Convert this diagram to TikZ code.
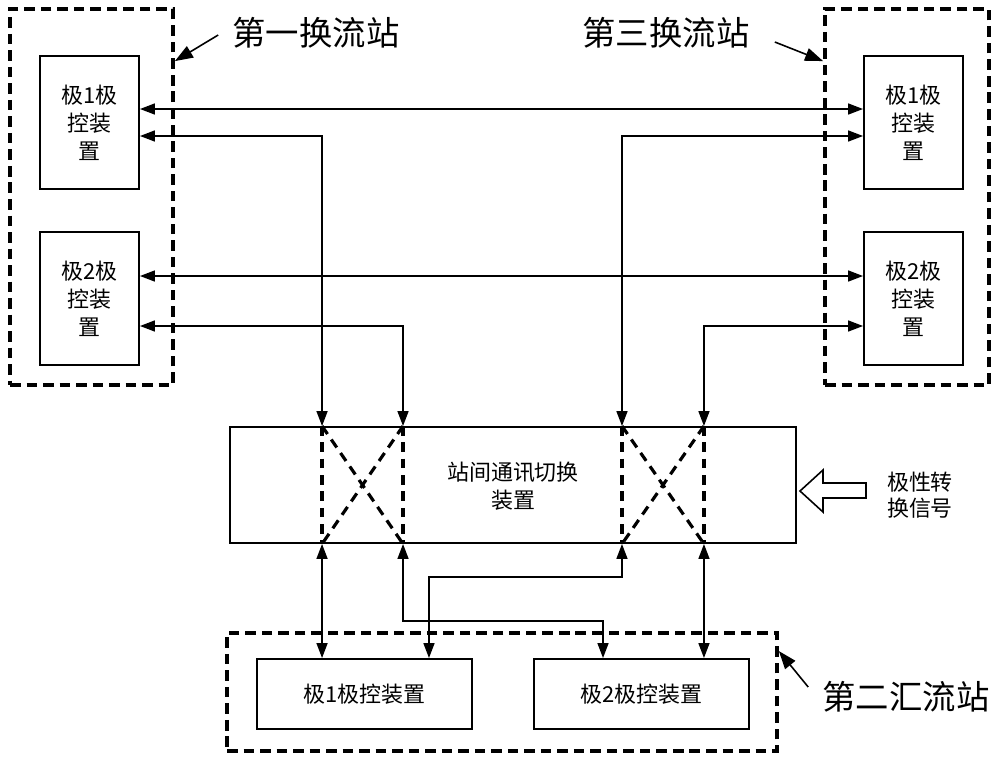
\documentclass[tikz,border=0pt]{standalone}
\usepackage{fontspec}
\setmainfont{Noto Sans CJK SC}
\usetikzlibrary{arrows.meta}
\tikzset{
  dev/.style={draw, line width=1.1pt, align=center, inner sep=0pt,
    font=\fontsize{12.5}{15.9}\selectfont},
  station/.style={draw, line width=2.2pt, dash pattern=on 6pt off 3.4pt, inner sep=0pt},
  link/.style={line width=0.9pt,
    {Triangle[length=0.3cm,width=0.22cm]}-{Triangle[length=0.3cm,width=0.22cm]}},
  xline/.style={line width=1.8pt, dash pattern=on 5.5pt off 3.8pt},
  big/.style={font=\fontsize{19}{22}\selectfont, inner sep=0pt},
  small/.style={font=\fontsize{12.5}{14.8}\selectfont, inner sep=0pt, align=center},
  callout/.style={line width=0.9pt, -{Triangle[length=0.36cm,width=0.26cm]}},
}
\begin{document}
\begin{tikzpicture}[x=0.02cm, y=-0.02cm]
\useasboundingbox (0,0) rectangle (1000,761);

% station frames
\node[station, minimum width=3.26cm, minimum height=7.52cm] (S1) at (91.5,197) {};
\node[station, minimum width=3.28cm, minimum height=7.52cm] (S3) at (907,197) {};
\node[station, minimum width=11cm, minimum height=2.36cm] (S2) at (502,692) {};

% devices
\node[dev, minimum width=1.98cm, minimum height=2.66cm] (L1) at (89.5,122.5) {极1极\\控装\\置};
\node[dev, minimum width=1.98cm, minimum height=2.66cm] (L2) at (89.5,298.5) {极2极\\控装\\置};
\node[dev, minimum width=1.98cm, minimum height=2.66cm] (R1) at (913.5,122.5) {极1极\\控装\\置};
\node[dev, minimum width=1.98cm, minimum height=2.66cm] (R2) at (913.5,298.5) {极2极\\控装\\置};
\node[dev, minimum width=11.32cm, minimum height=2.32cm] (C) at (513,485) {};
\node[small, font=\fontsize{12.5}{15.9}\selectfont] (ct) at (513,486) {站间通讯切换\\装置};
\node[dev, minimum width=4.3cm, minimum height=1.4cm] (B1) at (364.5,694) {极1极控装置};
\node[dev, minimum width=4.3cm, minimum height=1.4cm] (B2) at (641.5,694) {极2极控装置};

% labels
\node[big] (lab1) at (316,33) {第一换流站};
\node[big] (lab3) at (666,33) {第三换流站};
\node[big] (lab2) at (906,697) {第二汇流站};
\node[small] (sig) at (920,495) {极性转\\换信号};

% callout arrows
\draw[callout] ([shift={(-0.28cm,-0.04cm)}]lab1.west) -- ([yshift=-1.08cm]S1.north east);
\draw[callout] ([shift={(0.5cm,-0.18cm)}]lab3.east) -- ([yshift=-1.08cm]S3.north west);
\draw[callout] ([shift={(-0.28cm,0.2cm)}]lab2.west) -- ([yshift=-0.4cm]S2.north east);

% polarity signal arrow
\draw[line width=0.9pt] (800,491) -- (823,470) -- (823,483) -- (866,483) -- (866,498)
  -- (823,498) -- (823,512) -- cycle;

% switching crosses
\foreach \a/\b in {-3.82cm/-2.2cm, 2.18cm/3.82cm}{
  \draw[xline] ([xshift=\a]C.north) -- ([xshift=\a]C.south);
  \draw[xline] ([xshift=\b]C.north) -- ([xshift=\b]C.south);
  \draw[xline] ([xshift=\a]C.north) -- ([xshift=\b]C.south);
  \draw[xline] ([xshift=\b]C.north) -- ([xshift=\a]C.south);
}

% top links
\draw[link] ([yshift=0.27cm]L1.east) -- ([yshift=0.27cm]R1.west);
\draw[link] ([yshift=-0.27cm]L1.east) -| ([xshift=-3.82cm]C.north);
\draw[link] ([yshift=-0.27cm]R1.west) -| ([xshift=2.18cm]C.north);
\draw[link] ([yshift=0.45cm]L2.east) -- ([yshift=0.45cm]R2.west);
\draw[link] ([yshift=-0.55cm]L2.east) -| ([xshift=-2.2cm]C.north);
\draw[link] ([yshift=-0.55cm]R2.west) -| ([xshift=3.82cm]C.north);

% bottom links
\draw[link] ([xshift=-3.82cm]C.south) -- ([xshift=-3.82cm]C.south |- B1.north);
\draw[link] ([xshift=-2.2cm]C.south) -- ++(0,77) -| ([xshift=-0.77cm]B2.north);
\draw[link] ([xshift=2.18cm]C.south) -- ++(0,33) -| ([xshift=1.29cm]B1.north);
\draw[link] ([xshift=3.82cm]C.south) -- ([xshift=3.82cm]C.south |- B2.north);
\end{tikzpicture}
\end{document}
